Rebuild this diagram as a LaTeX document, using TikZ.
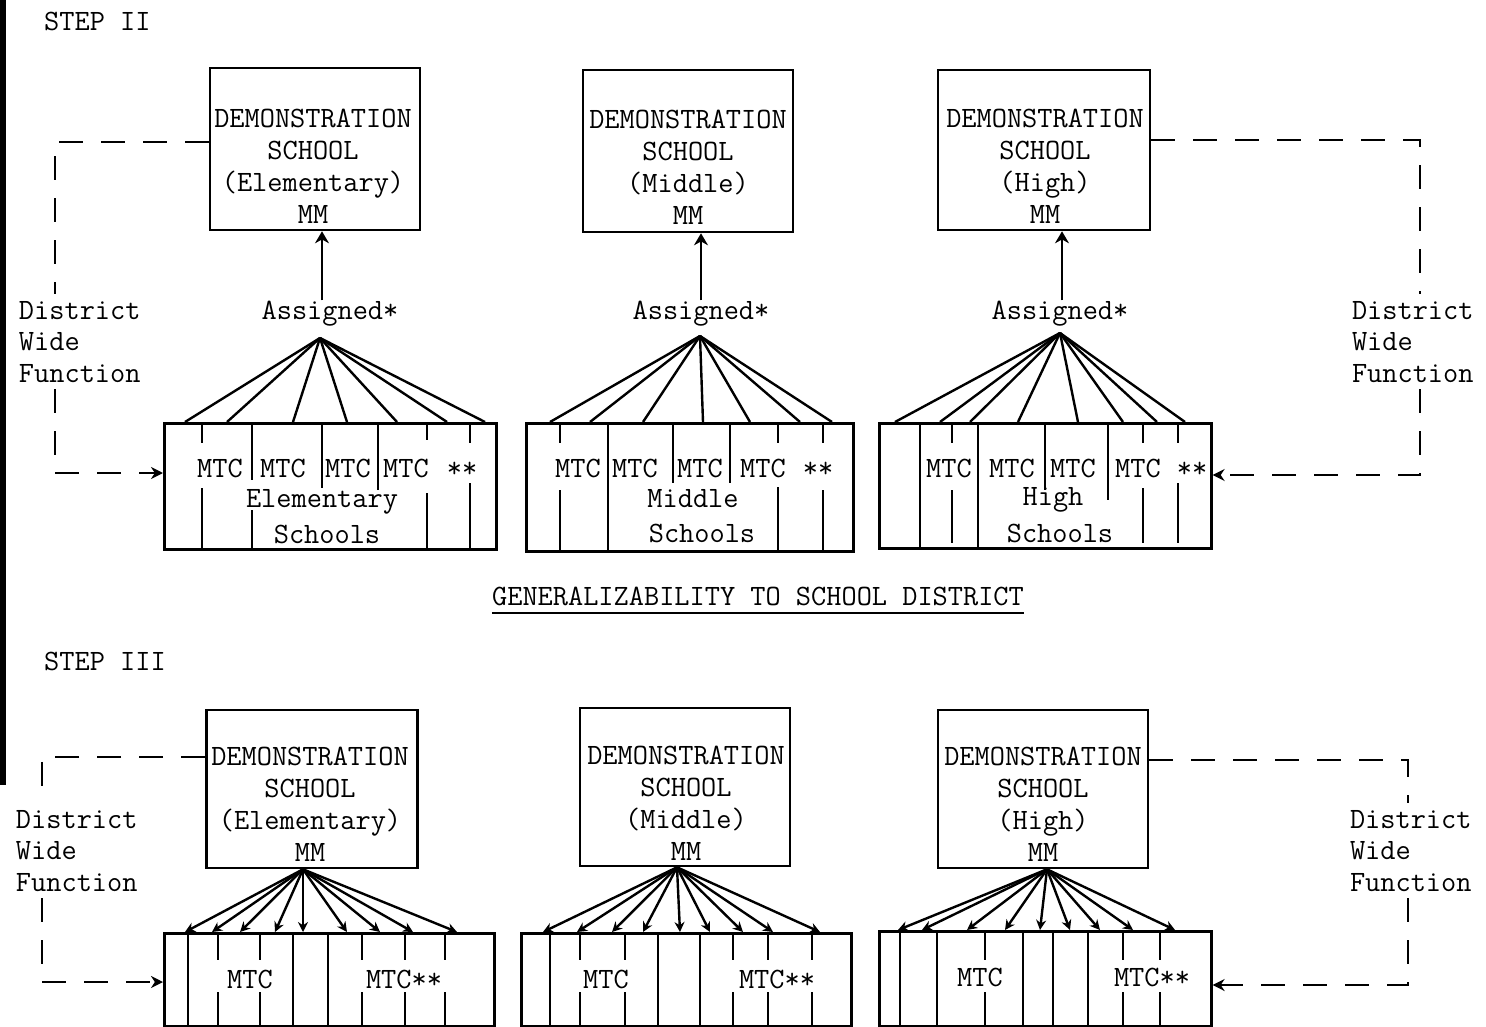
\documentclass[tikz,border=0pt]{standalone}
\usepackage{fontspec}
\usetikzlibrary{arrows.meta}
\begin{document}
\begin{tikzpicture}[x=1pt,y=-1pt,
  tt/.style={font=\fontsize{29.5}{32}\selectfont\ttfamily, inner sep=0pt, align=center},
  lbl/.style={tt, anchor=base},
  frame/.style={draw, line width=2.6pt, inner sep=0pt},
  dbox/.style={frame, minimum width=210pt, minimum height=160pt},
  sbox/.style={frame, anchor=north west},
  lnk/.style={line width=2.4pt},
  div/.style={line width=2.4pt},
  dsh/.style={line width=2.4pt, dash pattern=on 24pt off 18pt},
  dsharr/.style={dsh, -{Stealth[length=12pt,width=12pt]}},
  up/.style={lnk, -{Stealth[length=12pt,width=14pt]}},
  fanar/.style={lnk, -{Stealth[length=10pt,width=10pt]}},
  side/.style={font=\fontsize{29.5}{31.5}\selectfont\ttfamily, inner sep=0pt, outer sep=7pt, align=left}
]
\fill[white] (0,0) rectangle (1486,1027);
\useasboundingbox (0,0) rectangle (1486,1027);
\fill[black] (0,0) rectangle (6,785);

% ================= STEP II =================
\node[tt, anchor=base west] (s2) at (44,31) {STEP II};

\node[dbox, minimum height=162pt] (b1) at (315,149) {};
\node[tt] (b1t) at (313,166) {DEMONSTRATION\\SCHOOL\\(Elementary)\\MM};
\node[dbox, minimum height=162pt] (b2) at (688,151) {};
\node[tt] (b2t) at (688,167) {DEMONSTRATION\\SCHOOL\\(Middle)\\MM};
\node[dbox, minimum width=212pt, minimum height=160pt] (b3) at (1044,150) {};
\node[tt] (b3t) at (1045,166) {DEMONSTRATION\\SCHOOL\\(High)\\MM};

\node[lbl] (a1) at (330,319) {Assigned*};
\node[lbl] (a2) at (701,319) {Assigned*};
\node[lbl] (a3) at (1060,319) {Assigned*};

\draw[up] ([xshift=-8pt]a1.north) -- ([xshift=-8pt]a1.north |- b1.south);
\draw[up] (a2.north) -- (a2.north |- b2.south);
\draw[up] ([xshift=2pt]a3.north) -- ([xshift=2pt]a3.north |- b3.south);

% school rectangles
\node[sbox, minimum width=332pt, minimum height=126pt] (r1) at (163,422) {};
\node[sbox, minimum width=327pt, minimum height=128pt] (r2) at (525,422) {};
\node[sbox, minimum width=332pt, minimum height=125pt] (r3) at (878,422) {};

% dividers
\foreach \x/\a/\b in {202/422/443, 202/488/548, 252/422/480, 252/510/548,
  322/422/488, 378/422/490, 427/422/440, 427/493/548, 470/422/443, 470/483/548,
  560/422/443, 560/490/550, 608/422/550, 673/422/483, 730/422/483,
  778/422/443, 778/487/550, 823/422/443, 823/490/553,
  920/422/547, 952/422/443, 952/490/543, 978/422/547, 1045/422/490,
  1108/422/500, 1143/422/443, 1143/488/543, 1178/422/443, 1178/483/543}
  \draw[div] (\x,\a) -- (\x,\b);

% labels in rectangles
\node[lbl] (m11) at (220,477) {MTC};
\node[lbl] (m12) at (283,477) {MTC};
\node[lbl] (m13) at (348,477) {MTC};
\node[lbl] (m14) at (406,477) {MTC};
\node[lbl] (m15) at (462,477) {**};
\node[lbl] (e1) at (322,507) {Elementary};
\node[lbl] (e2) at (327,543) {Schools};

\node[lbl] (m21) at (578,477) {MTC};
\node[lbl] (m22) at (635,477) {MTC};
\node[lbl] (m23) at (700,477) {MTC};
\node[lbl] (m24) at (763,477) {MTC};
\node[lbl] (m25) at (818,477) {**};
\node[lbl] (d1) at (693,507) {Middle};
\node[lbl] (d2) at (702,542) {Schools};

\node[lbl] (m31) at (949,477) {MTC};
\node[lbl] (m32) at (1012,477) {MTC};
\node[lbl] (m33) at (1073,477) {MTC};
\node[lbl] (m34) at (1138,477) {MTC};
\node[lbl] (m35) at (1192,477) {**};
\node[lbl] (h1) at (1053,505) {High};
\node[lbl] (h2) at (1060,542) {Schools};

% fans
\coordinate (ap1) at (320,338);
\coordinate (ap2) at (700,336);
\coordinate (ap3) at (1060,333);
\foreach \x in {185,227,293,347,397,447,485} \draw[lnk] (ap1) -- (\x,0 |- r1.north);
\foreach \x in {550,590,643,703,750,800,832} \draw[lnk] (ap2) -- (\x,0 |- r2.north);
\foreach \x in {895,940,970,1018,1078,1123,1157,1185} \draw[lnk] (ap3) -- (\x,0 |- r3.north);

% district wide function (step II)
\node[side, anchor=north west] (dl1) at (12,294) {District\\Wide\\Function};
\node[side, anchor=north west] (dr1) at (1345,294) {District\\Wide\\Function};
\coordinate (cl1) at (55,142);
\coordinate (cl2) at (55,473);
\draw[dsh] (b1.west |- cl1) -- (cl1) -- (cl1 |- dl1.north);
\draw[dsharr] (cl1 |- dl1.south) -- (cl2) -- (r1.west |- cl2);
\coordinate (cr1) at (1420,140);
\coordinate (cr2) at (1420,475);
\draw[dsh] (b3.east |- cr1) -- (cr1) -- (cr1 |- dr1.north);
\draw[dsharr] (cr1 |- dr1.south) -- (cr2) -- (r3.east |- cr2);

% generalizability
\node[lbl] (gen) at (758,605) {GENERALIZABILITY TO SCHOOL DISTRICT};
\draw[line width=2pt] ([yshift=-8pt]gen.base west) -- ([yshift=-8pt]gen.base east);

% ================= STEP III =================
\node[tt, anchor=base west] (s3) at (44,670) {STEP III};

\node[dbox, minimum width=211pt, minimum height=158pt] (b4) at (312,789) {};
\node[tt] (b4t) at (310,804) {DEMONSTRATION\\SCHOOL\\(Elementary)\\MM};
\node[dbox, minimum height=158pt] (b5) at (685,787) {};
\node[tt] (b5t) at (686,803) {DEMONSTRATION\\SCHOOL\\(Middle)\\MM};
\node[dbox, minimum height=158pt] (b6) at (1043,789) {};
\node[tt] (b6t) at (1043,804) {DEMONSTRATION\\SCHOOL\\(High)\\MM};

\node[sbox, minimum width=330pt, minimum height=93pt] (r4) at (163,932) {};
\node[sbox, minimum width=330pt, minimum height=93pt] (r5) at (520,932) {};
\node[sbox, minimum width=332pt, minimum height=95pt] (r6) at (878,930) {};

\foreach \x in {188,293,328,550,658,700,900,937,1023,1053,1088}
  \draw[div] (\x,0 |- r4.north) -- (\x,0 |- r4.south);
\foreach \x in {218,260,362,405,445,580,625,733,768,812,985,1123,1160}
  {\draw[div] (\x,932) -- (\x,960); \draw[div] (\x,992) -- (\x,1025);}

\node[lbl] (n11) at (250,988) {MTC};
\node[lbl] (n12) at (404,988) {MTC**};
\node[lbl] (n21) at (606,988) {MTC};
\node[lbl] (n22) at (777,988) {MTC**};
\node[lbl] (n31) at (980,986) {MTC};
\node[lbl] (n32) at (1152,986) {MTC**};

\coordinate (ap4) at (303,0 |- b4.south);
\coordinate (ap5) at (677,0 |- b5.south);
\coordinate (ap6) at (1047,0 |- b6.south);
\foreach \x in {185,212,240,275,303,347,380,413,457} \draw[fanar] (ap4) -- (\x,0 |- r4.north);
\foreach \x in {543,577,612,643,680,710,743,773,820} \draw[fanar] (ap5) -- (\x,0 |- r5.north);
\foreach \x in {898,922,967,1005,1040,1070,1100,1133,1175} \draw[fanar] (ap6) -- (\x,0 |- r6.north);

\node[side, anchor=north west] (dl2) at (9,803) {District\\Wide\\Function};
\node[side, anchor=north west] (dr2) at (1343,803) {District\\Wide\\Function};
\coordinate (cl3) at (42,757);
\coordinate (cl4) at (42,982);
\draw[dsh] (b4.west |- cl3) -- (cl3) -- (cl3 |- dl2.north);
\draw[dsharr] (cl3 |- dl2.south) -- (cl4) -- (r4.west |- cl4);
\coordinate (cr3) at (1408,760);
\coordinate (cr4) at (1408,985);
\draw[dsh] (b6.east |- cr3) -- (cr3) -- (cr3 |- dr2.north);
\draw[dsharr] (cr3 |- dr2.south) -- (cr4) -- (r6.east |- cr4);
\end{tikzpicture}
\end{document}
